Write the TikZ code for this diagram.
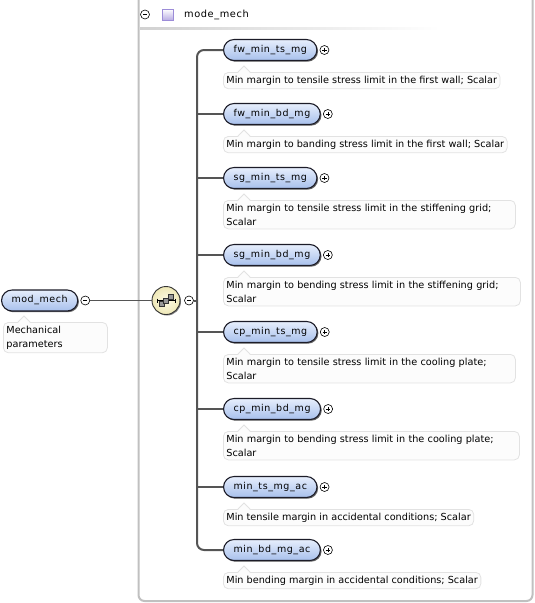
\documentclass[tikz,border=0pt]{standalone}
\usepackage{fontspec}
\setmainfont{DejaVu Sans}
\usetikzlibrary{shadows,calc}
\definecolor{nodetop}{HTML}{E6EEFC}
\definecolor{nodebot}{HTML}{A8C0EC}
\definecolor{nodeline}{HTML}{1C1C28}
\definecolor{annline}{HTML}{E2E2E2}
\definecolor{annfill}{HTML}{FCFCFC}
\definecolor{boxline}{HTML}{C0C0C0}
\definecolor{connline}{HTML}{555555}
\definecolor{seqfill}{HTML}{FBF4C0}
\definecolor{purp}{HTML}{9C8CD8}
\tikzset{
  elem/.style={draw=nodeline, line width=1.1pt, rounded corners=10.5pt,
    top color=nodetop, bottom color=nodebot, minimum height=21pt,
    inner xsep=10pt, inner ysep=0pt, anchor=west,
    font=\fontsize{9.5}{11}\selectfont\addfontfeatures{LetterSpace=6},
    drop shadow={shadow xshift=1.2pt, shadow yshift=-1.2pt, fill=black!60, opacity=1}},
  ann/.style={draw=annline, fill=annfill, line width=0.8pt, rounded corners=5pt,
    anchor=north west, align=left, inner xsep=3pt, inner ysep=3.5pt,
    font=\fontsize{9.7}{14}\selectfont},
  pm/.style={circle, draw=black, line width=0.6pt, fill=white, minimum size=9pt, inner sep=0pt},
  conn/.style={draw=connline, line width=2pt},
  thin conn/.style={draw=connline, line width=1.4pt},
}
\newcommand{\plusmark}[1]{%
  \node[pm] (#1p) at ($(#1.east)+(7,0)$) {};
  \draw[line width=0.6pt] ($(#1p.center)+(-2.2,0)$) -- ($(#1p.center)+(2.2,0)$)
    ($(#1p.center)+(0,-2.2)$) -- ($(#1p.center)+(0,2.2)$);}
\newcommand{\notch}[1]{%
  \fill[annfill] ($(#1.north west)+(15,1)$) -- ($(#1.north west)+(21,-6)$) -- ($(#1.north west)+(27,1)$) -- cycle;
  \draw[annline, line width=0.8pt] ($(#1.north west)+(15,0)$) -- ($(#1.north west)+(21,-6)$) -- ($(#1.north west)+(27,0)$);}
\begin{document}
\begin{tikzpicture}[x=1pt, y=-1pt]
\useasboundingbox (0,0) rectangle (535,603);
% outer group box
\draw[boxline, line width=2pt, rounded corners=6pt] (138.5,-5) -- (138.5,601) -- (532.5,601) -- (532.5,-5);
% header
\shade[left color=black!18, right color=white] (140,27.5) rectangle (440,29);
\node[pm] (hm) at (145,14.5) {};
\draw[line width=0.6pt] ($(hm.center)+(-2.2,0)$) -- ($(hm.center)+(2.2,0)$);
\node[draw=purp, line width=0.8pt, top color=white, bottom color=purp!70, minimum size=11pt, inner sep=0pt] (hsq) at (168,14.5) {};
\node[anchor=west, inner sep=0pt, font=\fontsize{9.8}{11}\selectfont\addfontfeatures{LetterSpace=6}] (htxt) at (184,14.5) {mode\_mech};

% root
\node[elem, minimum width=76pt] (root) at (1,300.5) {mod\_mech};
\node[pm] (rootm) at ($(root.east)+(7,0)$) {};
\draw[line width=0.6pt] ($(rootm.center)+(-2.2,0)$) -- ($(rootm.center)+(2.2,0)$);
\node[ann, text width=98pt] (rootann) at (3,322) {Mechanical\\parameters};
\notch{rootann}

% sequence compositor
\node[circle, draw=black!80, line width=0.9pt, inner color=seqfill!40, outer color=seqfill!95!black, minimum size=28pt, inner sep=0pt,
  drop shadow={shadow xshift=1pt, shadow yshift=-1pt, fill=black!50, opacity=1}] (seq) at (166,300.5) {};
\draw[black, line width=0.7pt] ($(seq.center)+(-9,0)$) -- ($(seq.center)+(9,0)$);
\draw[black, line width=0.7pt] ($(seq.center)+(-9,-2)$) -- ($(seq.center)+(-9,2)$)
  ($(seq.center)+(9,-2)$) -- ($(seq.center)+(9,2)$);
\foreach \dx/\dy in {-4.5/3.5, 0/0, 4.5/-3.5}
  \draw[black!80, line width=0.5pt, fill=black!40] ($(seq.center)+(\dx-2.6,\dy-2.6)$) rectangle ($(seq.center)+(\dx+2.6,\dy+2.6)$);
\node[pm] (seqm) at (189,300.5) {};
\draw[line width=0.6pt] ($(seqm.center)+(-2.2,0)$) -- ($(seqm.center)+(2.2,0)$);
\draw[thin conn] (rootm.east) -- (seq.west);

\coordinate (tx) at (197,0);

% children
\node[elem] (c1) at (223,50) {fw\_min\_ts\_mg};
\node[elem] (c2) at (223,114) {fw\_min\_bd\_mg};
\node[elem] (c3) at (223,178) {sg\_min\_ts\_mg};
\node[elem] (c4) at (223,255) {sg\_min\_bd\_mg};
\node[elem] (c5) at (223,332) {cp\_min\_ts\_mg};
\node[elem] (c6) at (223,409) {cp\_min\_bd\_mg};
\node[elem] (c7) at (223,487) {min\_ts\_mg\_ac};
\node[elem] (c8) at (223,550) {min\_bd\_mg\_ac};
\foreach \n in {c1,c2,c3,c4,c5,c6,c7,c8} {\plusmark{\n}}

\node[ann] (a1) at (223,72) {Min margin to tensile stress limit in the first wall; Scalar};
\node[ann] (a2) at (223,136) {Min margin to banding stress limit in the first wall; Scalar};
\node[ann, text width=286pt] (a3) at (223,200) {Min margin to tensile stress limit in the stiffening grid;\\Scalar};
\node[ann, text width=291pt] (a4) at (223,277) {Min margin to bending stress limit in the stiffening grid;\\Scalar};
\node[ann, text width=286pt] (a5) at (223,354) {Min margin to tensile stress limit in the cooling plate;\\Scalar};
\node[ann, text width=290pt] (a6) at (223,431) {Min margin to bending stress limit in the cooling plate;\\Scalar};
\node[ann] (a7) at (223,509) {Min tensile margin in accidental conditions; Scalar};
\node[ann] (a8) at (223,572) {Min bending margin in accidental conditions; Scalar};
\foreach \n in {a1,a2,a3,a4,a5,a6,a7,a8} {\notch{\n}}

% connectors
\draw[conn, rounded corners=7pt] (c1.west) -- (c1.west -| tx) -- (c8.west -| tx) -- (c8.west);
\foreach \n in {c2,c3,c4,c5,c6,c7}
  \draw[conn] (\n.west) -- (\n.west -| tx);
\draw[conn] (seqm.east) -- (seqm.east -| tx);
\end{tikzpicture}
\end{document}
